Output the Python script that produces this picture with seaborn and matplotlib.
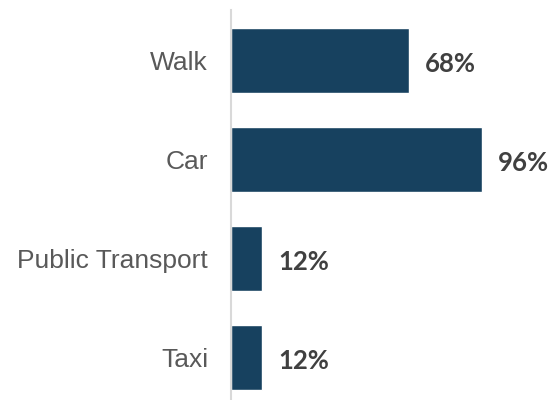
import matplotlib
matplotlib.use("Agg")
import matplotlib.pyplot as plt
import seaborn as sns
import pandas as pd

categories = ["Walk", "Car", "Public Transport", "Taxi"]
shares = [68, 96, 12, 12]

df = pd.DataFrame({"mode": categories, "share": shares})

sns.set_style("white")
plt.rcParams["font.family"] = ["Liberation Sans", "DejaVu Sans"]

fig = plt.figure(figsize=(5.52, 4.0), dpi=100)
ax = fig.add_axes([231 / 552, 0.0, (492.5 - 231) / 552, 390 / 400])

sns.barplot(data=df, x="share", y="mode", orient="h", color="#17415F",
            width=0.657, saturation=1, ax=ax)

ax.set_xlim(0, 100)
ax.set_ylim(3.43, -0.51)
ax.set_xlabel("")
ax.set_ylabel("")
ax.set_xticks([])

for s in ["top", "right", "bottom"]:
    ax.spines[s].set_visible(False)
ax.spines["left"].set_color("#D9D9D9")
ax.spines["left"].set_linewidth(1.5)

ax.tick_params(axis="y", length=0, pad=16.5, labelsize=19, labelcolor="#595959")

for i, v in enumerate(shares):
    ax.text(v + 6.0, i + 0.04, f"{v}%", va="center", ha="left", fontsize=18.5,
            fontweight="bold", color="#404040", family=["Lato", "DejaVu Sans"])

fig.savefig("out.png", dpi=100)
